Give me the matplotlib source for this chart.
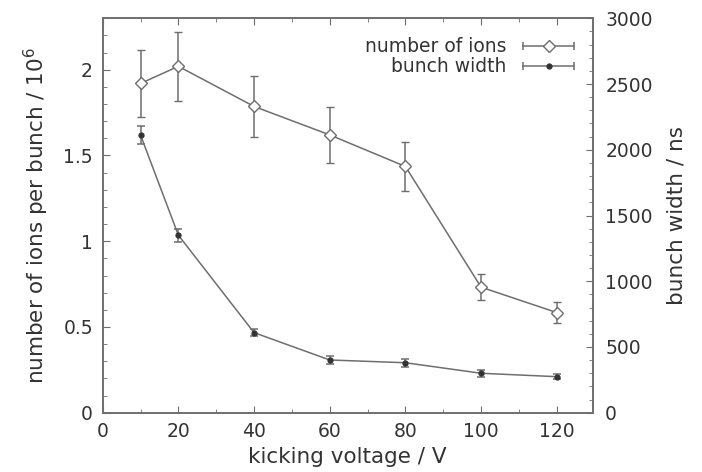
import numpy as np
import matplotlib
matplotlib.use("Agg")
import matplotlib.pyplot as plt
from matplotlib.ticker import MultipleLocator
from matplotlib.lines import Line2D
from matplotlib.legend_handler import HandlerLine2D, HandlerTuple

# kicking voltage (V)
voltage = [10, 20, 40, 60, 80, 100, 120]

# number of ions per bunch / 1e6
ions = [1.92, 2.02, 1.786, 1.62, 1.436, 0.732, 0.584]
ions_err = [0.195, 0.20, 0.178, 0.162, 0.141, 0.075, 0.059]

# bunch width (ns)
width = [2112, 1350, 609, 401, 380, 300, 274]
width_err = [70, 50, 27, 27, 30, 25, 20]

plt.rcParams['font.family'] = ['DejaVu Sans']

gray = '#6e6e6e'
txt = '#333333'
tick_fs = 13.5
label_fs = 15.5

fig = plt.figure(figsize=(7.02, 4.72), dpi=100)
ax1 = fig.add_axes([102.7 / 702, (472 - 412.7) / 472, 490 / 702, 394.4 / 472])
ax2 = ax1.twinx()

ax1.errorbar(voltage, ions, yerr=ions_err, color=gray, lw=1.1,
             marker='D', ms=6.5, mfc='white', mec=gray, mew=1.0,
             capsize=3, elinewidth=1.1, capthick=1.1)
ax2.errorbar(voltage, width, yerr=width_err, color=gray, lw=1.1,
             marker='o', ms=3.5, mfc='#333333', mec='#333333',
             capsize=3, elinewidth=1.1, capthick=1.1)

ax1.set_xlim(0, 129.5)
ax1.set_ylim(0, 2.3)
ax2.set_ylim(0, 3000)

ax1.xaxis.set_major_locator(MultipleLocator(20))
ax1.xaxis.set_minor_locator(MultipleLocator(10))
ax1.yaxis.set_major_locator(MultipleLocator(0.5))
ax1.yaxis.set_minor_locator(MultipleLocator(0.1))
ax2.yaxis.set_major_locator(MultipleLocator(500))
ax2.yaxis.set_minor_locator(MultipleLocator(100))

ax1.set_yticks([0, 0.5, 1, 1.5, 2])
ax1.set_yticklabels(['0', '0.5', '1', '1.5', '2'])

ax1.tick_params(which='both', direction='in', top=True, right=False,
                colors=gray, labelcolor=txt, labelsize=tick_fs)
ax1.tick_params(axis='x', which='major', pad=7)
ax1.tick_params(axis='y', which='major', pad=7)
ax1.tick_params(which='major', length=5)
ax1.tick_params(which='minor', length=3)
ax2.tick_params(which='both', direction='in', colors=gray,
                labelcolor=txt, labelsize=tick_fs, pad=9)
ax2.tick_params(which='major', length=5)
ax2.tick_params(which='minor', length=3)

for ax in (ax1, ax2):
    for s in ax.spines.values():
        s.set_color(gray)
        s.set_linewidth(1.2)

ax1.set_xlabel('kicking voltage / V', color=txt, fontsize=label_fs, labelpad=4)
ax1.set_ylabel('number of ions per bunch / 10$^6$', color=txt,
               fontsize=label_fs, labelpad=9)
ax2.set_ylabel('bunch width / ns', color=txt, fontsize=label_fs, labelpad=10)

# key entries drawn gnuplot style: horizontal bar with end caps and the marker
cap1 = Line2D([], [], color=gray, lw=1.1, marker='|', ms=6, mew=1.1)
mk1 = Line2D([], [], ls='none', marker='D', ms=6.5, mfc='white', mec=gray, mew=1.0)
cap2 = Line2D([], [], color=gray, lw=1.1, marker='|', ms=6, mew=1.1)
mk2 = Line2D([], [], ls='none', marker='o', ms=3.5, mfc='#333333', mec='#333333')

hmap = {cap1: HandlerLine2D(numpoints=2), cap2: HandlerLine2D(numpoints=2),
        mk1: HandlerLine2D(numpoints=1), mk2: HandlerLine2D(numpoints=1),
        tuple: HandlerTuple(ndivide=1, pad=0)}

leg = ax1.legend([(cap1, mk1), (cap2, mk2)], ['number of ions', 'bunch width'],
                 loc='upper right', bbox_to_anchor=(1.0, 0.985),
                 frameon=False, markerfirst=False, handlelength=3.3,
                 handletextpad=0.6, labelspacing=0.05, fontsize=tick_fs,
                 handler_map=hmap, borderaxespad=0.3)
for t in leg.get_texts():
    t.set_color(txt)

fig.savefig('out.png', dpi=100)
